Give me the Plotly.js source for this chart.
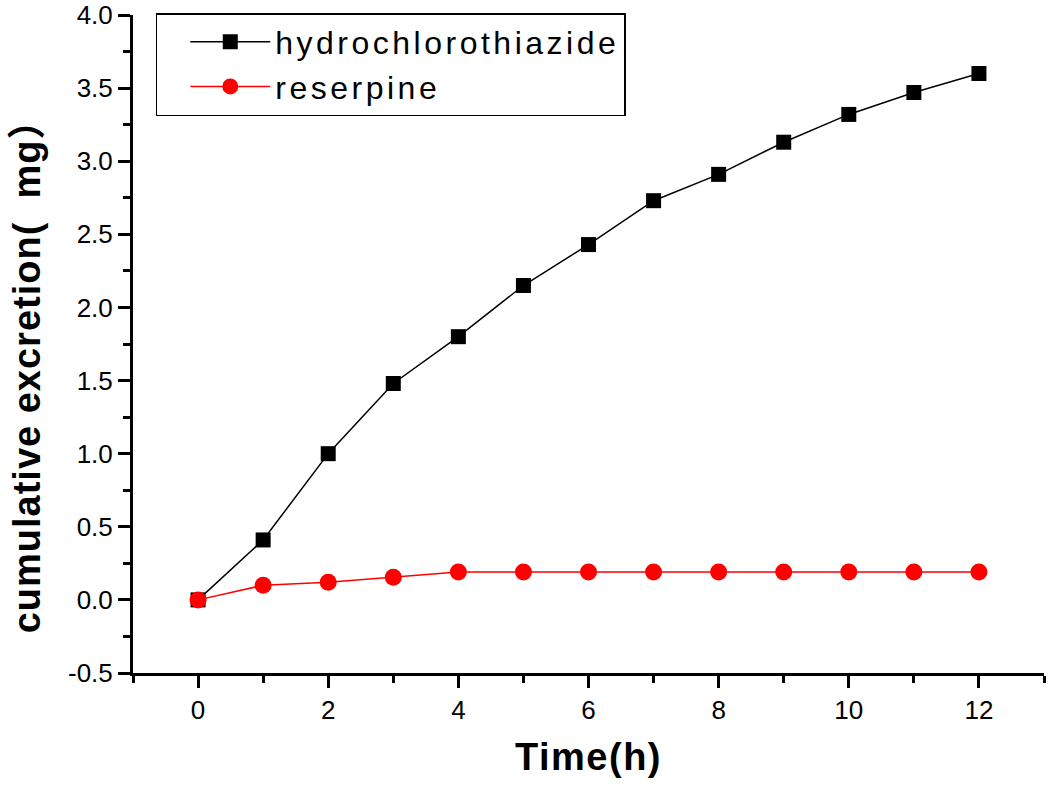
<!DOCTYPE html>
<html>
<head>
<meta charset="utf-8">
<script src="https://cdn.plot.ly/plotly-3.0.1.min.js"></script>
<style>
  html, body { margin: 0; padding: 0; background: #fff; }
  #chart { width: 1050px; height: 786px; }
  .legendtext { letter-spacing: 3.5px; }
  .xtitle { letter-spacing: 1.5px; }
  .annotation-text { letter-spacing: 1px; }
</style>
</head>
<body>
<div id="chart"></div>
<script>
// time points (h)
const hours = [0, 1, 2, 3, 4, 5, 6, 7, 8, 9, 10, 11, 12];
// cumulative excretion (mg)
const hydrochlorothiazide = [0, 0.41, 1.00, 1.48, 1.80, 2.15, 2.43, 2.73, 2.91, 3.13, 3.32, 3.47, 3.60];
const reserpine = [0, 0.10, 0.12, 0.155, 0.19, 0.19, 0.19, 0.19, 0.19, 0.19, 0.19, 0.19, 0.19];

// y tick labels (plain hyphen, as in the original)
const yTicks = [-0.5, 0, 0.5, 1.0, 1.5, 2.0, 2.5, 3.0, 3.5, 4.0];
const yTickText = yTicks.map(v => v.toFixed(1));

const data = [
    {
        x: hours,
        y: hydrochlorothiazide,
        mode: 'lines+markers',
        name: 'hydrochlorothiazide',
        line: { color: '#000000', width: 1.5 },
        marker: { symbol: 'square', size: 15, color: '#000000' }
    },
    {
        x: hours,
        y: reserpine,
        mode: 'lines+markers',
        name: 'reserpine',
        line: { color: '#ff0000', width: 1.5 },
        marker: { symbol: 'circle', size: 17, color: '#ff0000' }
    }
];

const axisFont = { family: 'Arial', size: 26, color: '#000' };
const titleFont = { family: 'Arial, "Noto Sans CJK SC"', size: 38, color: '#000', weight: 'bold' };

const layout = {
    width: 1050,
    height: 786,
    margin: { l: 133, r: 6, t: 15, b: 113 },
    paper_bgcolor: '#ffffff',
    plot_bgcolor: '#ffffff',
    xaxis: {
        range: [-1, 13],
        tick0: 0,
        dtick: 2,
        showgrid: false,
        zeroline: false,
        showline: true,
        linecolor: '#000',
        linewidth: 3,
        ticks: 'outside',
        ticklen: 12,
        tickwidth: 3,
        tickcolor: '#000',
        tickfont: axisFont,
        minor: { dtick: 1, ticks: 'outside', ticklen: 7, tickwidth: 3, tickcolor: '#000' },
        title: { text: 'Time(h)', font: titleFont, standoff: 20 }
    },
    yaxis: {
        range: [-0.5, 4.0],
        tickmode: 'array',
        tickvals: yTicks,
        ticktext: yTickText,
        showgrid: false,
        zeroline: false,
        showline: true,
        linecolor: '#000',
        linewidth: 3,
        ticks: 'outside',
        ticklen: 12,
        tickwidth: 3,
        tickcolor: '#000',
        tickfont: axisFont,
        minor: { dtick: 0.25, tick0: 0, ticks: 'outside', ticklen: 7, tickwidth: 3, tickcolor: '#000' }
    },
    annotations: [{
        text: 'cumulative excretion(  mg）',
        textangle: -90,
        xref: 'paper',
        yref: 'paper',
        x: -0.116,
        y: 0.465,
        xanchor: 'center',
        yanchor: 'middle',
        showarrow: false,
        font: titleFont
    }],
    showlegend: true,
    legend: {
        x: 0.025,
        y: 1.003,
        xanchor: 'left',
        yanchor: 'top',
        bgcolor: '#ffffff',
        bordercolor: '#000',
        borderwidth: 1.5,
        font: { family: 'Arial', size: 32, color: '#000' },
        indentation: 28,
        itemwidth: 80,
        tracegroupgap: 0
    }
};

Plotly.newPlot('chart', data, layout, { staticPlot: true });
</script>
</body>
</html>
